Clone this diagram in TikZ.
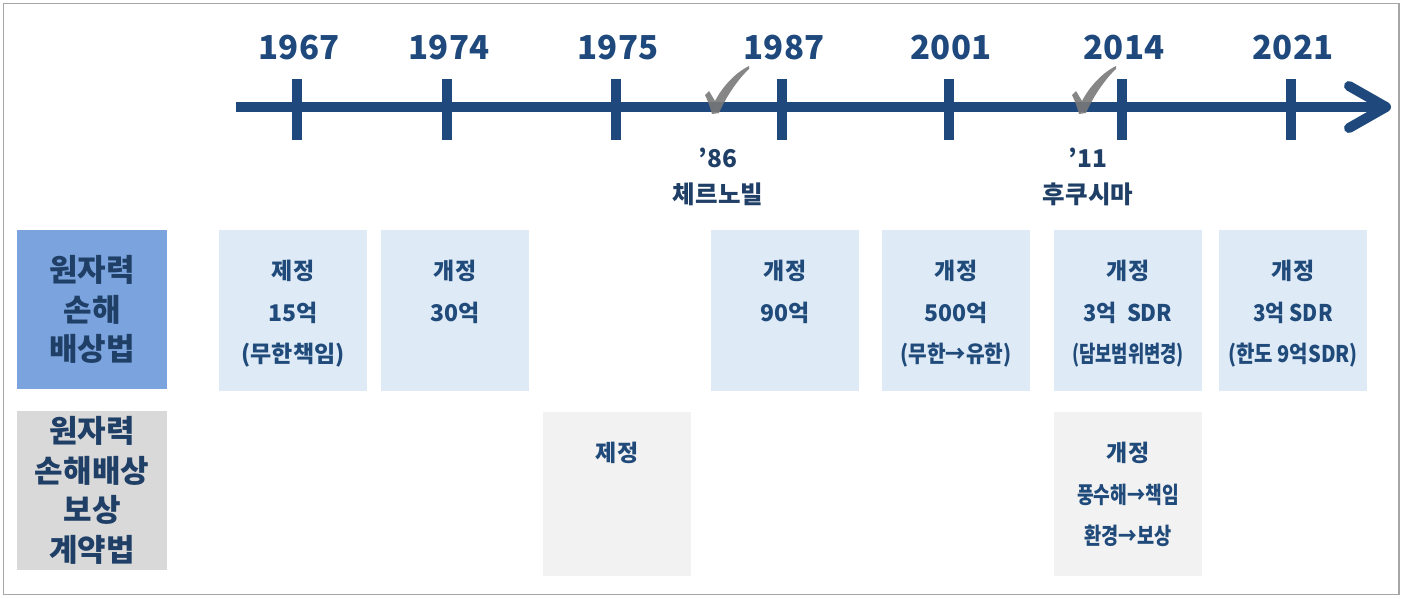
\documentclass[tikz,border=0pt]{standalone}
\usepackage{fontspec}
\setmainfont{Noto Sans CJK KR}
\usetikzlibrary{positioning,calc}
\definecolor{tlblue}{HTML}{1F497D}
\definecolor{txblue}{HTML}{1F4A7A}
\definecolor{lbblue}{HTML}{1F3F66}
\definecolor{lawblue}{HTML}{7BA4DE}
\definecolor{boxblue}{HTML}{DEEAF6}
\definecolor{lawgray}{HTML}{D9D9D9}
\definecolor{boxgray}{HTML}{F2F2F2}
\newcommand{\narrowtxt}[2]{\scalebox{#1}[1]{#2}}
\tikzstyle{lawbox}=[rectangle, fill=lawblue, minimum width=150pt, minimum height=159pt,
                    inner sep=0pt, outer sep=0pt, align=center, text=lbblue,
                    font=\fontsize{31}{39.5}\selectfont\bfseries]
\tikzstyle{bbox}=[rectangle, fill=boxblue, minimum width=148pt, minimum height=161pt,
                  inner sep=0pt, outer sep=0pt]
\tikzstyle{gbox}=[rectangle, fill=boxgray, minimum width=148pt, minimum height=164pt,
                  inner sep=0pt, outer sep=0pt]
\tikzstyle{btxt}=[inner sep=0pt, align=center, text=txblue,
                  font=\fontsize{23}{41.5}\selectfont\bfseries]
\tikzstyle{year}=[inner sep=0pt, anchor=base, text=tlblue,
                  font=\fontsize{33}{40}\selectfont\bfseries]
\tikzstyle{event}=[inner sep=0pt, anchor=north, align=center, text=lbblue,
                   font=\fontsize{24.5}{36}\selectfont\bfseries]
\tikzstyle{tline}=[-, line width=10pt, draw=tlblue]
\tikzstyle{chk}=[fill=gray!95!black, fill opacity=0.9, draw=none]

\begin{document}
\begin{tikzpicture}[x=1pt,y=-1pt,node distance=0pt]
\useasboundingbox (0,0) rectangle (1403,598);
\draw[color=black!35, line width=1.5pt] (3.5,3.5) rectangle (1399,594.5);

% law names
\node (LAWA) [lawbox] at (92,309.5) {원자력\\손해\\배상법};
\node (LAWB) [lawbox, fill=lawgray, below=22pt of LAWA] {원자력\\손해배상\\보상\\계약법};

% row 1
\node (B67) [bbox, anchor=west] at (219,310.5) {};
\node (B74) [bbox, right=14pt of B67] {};
\node (B87) [bbox, right=182pt of B74] {};
\node (B01) [bbox, right=23pt of B87] {};
\node (B14) [bbox, right=24pt of B01] {};
\node (B21) [bbox, right=17pt of B14] {};
% row 2
\node (C75) [gbox] at (617,494) {};
\node (C14) [gbox, below=21pt of B14] {};

\node (T67) [btxt, below=30pt of B67.north] {제정\\15억\\(무한책임)};
\node (T74) [btxt, below=30pt of B74.north] {개정\\30억};
\node (T87) [btxt, below=30pt of B87.north] {개정\\90억};
\node (T01) [btxt, below=30pt of B01.north] {개정\\500억\\\narrowtxt{0.88}{(무한→유한)}};
\node (T14) [btxt, below=30pt of B14.north] {개정\\\narrowtxt{0.95}{3억\ \ SDR}\\\narrowtxt{0.77}{(담보범위변경)}};
\node (T21) [btxt, below=30pt of B21.north] {개정\\\narrowtxt{0.9}{3억 SDR}\\\narrowtxt{0.87}{(한도 9억SDR)}};
\node (U75) [btxt, below=30pt of C75.north] {제정};
\node (U14) [btxt, below=30pt of C14.north] {개정\\\narrowtxt{0.79}{풍수해→책임}\\\narrowtxt{0.81}{환경→보상}};

% time line
\coordinate (START) at (236,107);
\coordinate (TIP) at (1386,107);
\draw[tline] (START) -- ([xshift=-4pt]TIP);
\draw[tline, line cap=round, line join=round] (1349,86) -- (TIP) -- (1349,128);
\foreach \yr/\x in {1967/297,1974/447,1975/616,1987/782,2001/949,2014/1122,2021/1291}{
  \coordinate (K\yr) at (\x,107);
  \draw[tline] ($(K\yr)+(0,-28)$) -- ($(K\yr)+(0,33)$);
  \node (Y\yr) [year] at ($(K\yr)+(2,-48)$) {\yr};
}

% accidents
\foreach \n/\x in {86/715,11/1082}{
  \fill[chk, shift={(\x,113)}] (-10,-18) -- (-6,-22) -- (0,-12)
     .. controls (8,-27) and (20,-40) .. (34,-47) -- (34,-44)
     .. controls (22,-33) and (10,-14) .. (4,0) -- (-3,1)
     .. controls (-5,-6) and (-7,-12) .. cycle;
}
\node (E86) [event] at (718,148) {’86\\체르노빌};
\node (E11) [event] at (1088,148) {’11\\후쿠시마};

\end{tikzpicture}
\end{document}
